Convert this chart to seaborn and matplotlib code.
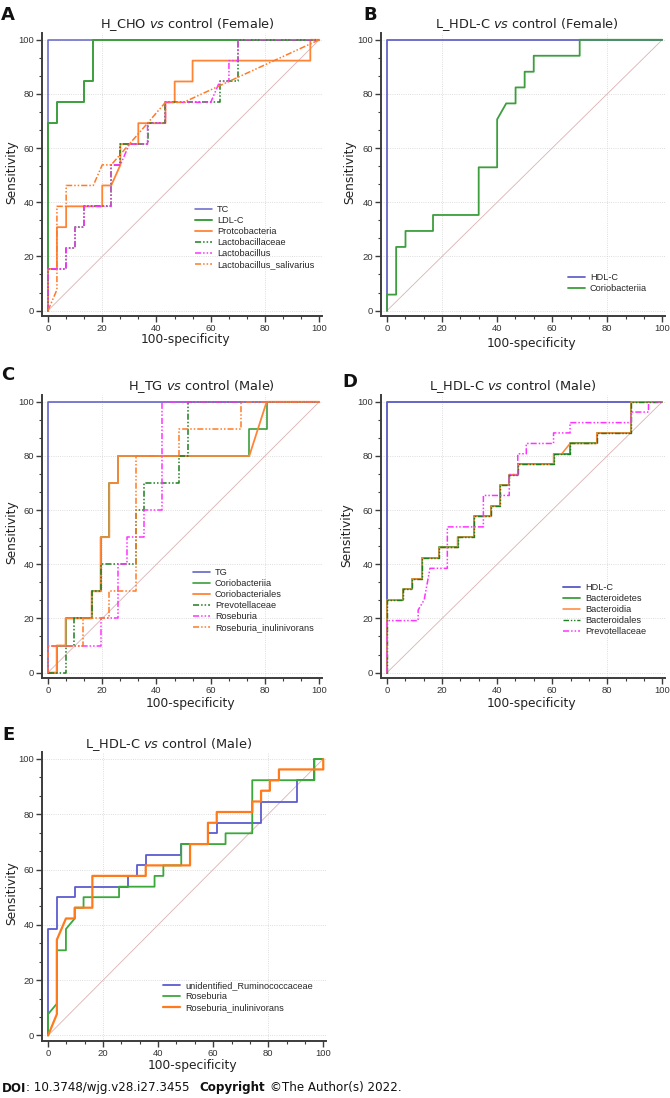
import matplotlib
matplotlib.use("Agg")
import matplotlib.pyplot as plt
import seaborn as sns
from matplotlib.ticker import MultipleLocator, AutoMinorLocator

# ---- data (x = 100-specificity, y = sensitivity) ----
# A: H_CHO vs control (Female)
a_tc_x = [0, 0, 100]
a_tc_y = [0, 100, 100]
a_ldl_x = [0, 0, 3.3, 3.3, 13.3, 13.3, 16.7, 16.7, 100]
a_ldl_y = [0, 69.2, 69.2, 76.9, 76.9, 84.6, 84.6, 100, 100]
a_proteo_x = [0, 0, 3.3, 3.3, 6.7, 6.7, 20, 20, 23.3, 26.7, 26.7, 33.3, 33.3, 43.3, 43.3,
              46.7, 46.7, 53.3, 53.3, 96.7, 96.7, 100]
a_proteo_y = [0, 15.4, 15.4, 30.8, 30.8, 38.5, 38.5, 46.2, 46.2, 53.8, 61.5, 61.5, 69.2, 69.2,
              76.9, 76.9, 84.6, 84.6, 92.3, 92.3, 100, 100]
a_lbceae_x = [0, 0, 6.7, 6.7, 10, 10, 13.3, 13.3, 23.3, 23.3, 26.7, 26.7, 36.7, 36.7, 43.3,
              43.3, 63.3, 63.3, 70, 70, 100]
a_lbceae_y = [0, 15.4, 15.4, 23.1, 23.1, 30.8, 30.8, 38.5, 38.5, 53.8, 53.8, 61.5, 61.5, 69.2,
              69.2, 76.9, 76.9, 84.6, 84.6, 100, 100]
a_lb_x = [0, 0, 6.7, 6.7, 10, 10, 13.3, 13.3, 23.3, 23.3, 26.7, 30, 36.7, 36.7, 43.3, 43.3,
          60, 63.3, 66.7, 66.7, 70, 70, 100]
a_lb_y = [0, 15.4, 15.4, 23.1, 23.1, 30.8, 30.8, 38.5, 38.5, 53.8, 53.8, 61.5, 61.5, 69.2,
          69.2, 76.9, 76.9, 84.6, 84.6, 92.3, 92.3, 100, 100]
a_saliv_x = [0, 3.3, 3.3, 6.7, 6.7, 16.7, 20, 23.3, 36.7, 43.3, 50, 100]
a_saliv_y = [0, 7.7, 38.5, 38.5, 46.2, 46.2, 53.8, 53.8, 69.2, 76.9, 76.9, 100]

# B: L_HDL-C vs control (Female)
b_hdl_x = [0, 0, 100]
b_hdl_y = [0, 100, 100]
b_corio_x = [0, 0, 3.3, 3.3, 6.7, 6.7, 16.7, 16.7, 33.3, 33.3, 40, 40, 43.3, 46.7, 46.7, 50,
             50, 53.3, 53.3, 70, 70, 100]
b_corio_y = [0, 5.9, 5.9, 23.5, 23.5, 29.4, 29.4, 35.3, 35.3, 52.9, 52.9, 70.6, 76.5, 76.5,
             82.4, 82.4, 88.2, 88.2, 94.1, 94.1, 100, 100]

# C: H_TG vs control (Male)
c_tg_x = [0, 0, 100]
c_tg_y = [0, 100, 100]
c_coriia_x = [0, 3.2, 3.2, 6.5, 6.5, 16.1, 16.1, 19.4, 19.4, 22.6, 22.6, 25.8, 25.8, 74.2,
              74.2, 80.6, 80.6, 100]
c_coriia_y = [0, 0, 10, 10, 20, 20, 30, 30, 50, 50, 70, 70, 80, 80, 90, 90, 100, 100]
c_coriales_x = [0, 3.2, 3.2, 6.5, 6.5, 16.1, 16.1, 19.4, 19.4, 22.6, 22.6, 25.8, 25.8, 74.2,
                80.6, 100]
c_coriales_y = [0, 0, 10, 10, 20, 20, 30, 30, 50, 50, 70, 70, 80, 80, 100, 100]
c_prevo_x = [0, 6.5, 6.5, 9.7, 9.7, 16.1, 16.1, 19.4, 19.4, 32.3, 32.3, 35.5, 35.5, 48.4,
             48.4, 51.6, 51.6, 100]
c_prevo_y = [0, 0, 10, 10, 20, 20, 30, 30, 40, 40, 60, 60, 70, 70, 80, 80, 100, 100]
c_rose_x = [0, 0, 19.4, 19.4, 25.8, 25.8, 29, 29, 35.5, 35.5, 41.9, 41.9, 100]
c_rose_y = [0, 10, 10, 20, 20, 40, 40, 50, 50, 60, 60, 100, 100]
c_inul_x = [0, 0, 12.9, 12.9, 22.6, 22.6, 32.3, 32.3, 48.4, 48.4, 71, 71, 100]
c_inul_y = [0, 10, 10, 20, 20, 30, 30, 80, 80, 90, 90, 100, 100]

# D: L_HDL-C vs control (Male)
d_hdl_x = [0, 0, 100]
d_hdl_y = [0, 100, 100]
d_bact_x = [0, 0, 5.9, 5.9, 9.0, 9.0, 12.6, 12.6, 18.9, 18.9, 25.6, 25.6, 31.6, 31.6, 37.8,
            37.8, 41.1, 41.1, 44.4, 44.4, 47.5, 47.5, 60.5, 60.5, 66.5, 66.5, 76.2, 76.2,
            88.7, 88.7, 100]
d_bact_y = [0, 26.9, 26.9, 30.8, 30.8, 34.6, 34.6, 42.3, 42.3, 46.2, 46.2, 50, 50, 57.7,
            57.7, 61.5, 61.5, 69.2, 69.2, 73.1, 73.1, 76.9, 76.9, 80.8, 80.8, 84.6, 84.6,
            88.5, 88.5, 100, 100]
d_bacia_x = [0, 0, 5.9, 5.9, 9.0, 9.0, 12.6, 12.6, 18.9, 18.9, 25.6, 25.6, 31.6, 31.6, 37.8,
             37.8, 41.1, 41.1, 44.4, 44.4, 47.5, 47.5, 60.5, 60.5, 63.5, 66.5, 76.2, 76.2,
             88.7, 88.7, 100]
d_bacia_y = [0, 26.9, 26.9, 30.8, 30.8, 34.6, 34.6, 42.3, 42.3, 46.2, 46.2, 50, 50, 57.7,
             57.7, 61.5, 61.5, 69.2, 69.2, 73.1, 73.1, 76.9, 76.9, 80.8, 80.8, 84.6, 84.6,
             88.5, 88.5, 100, 100]
d_prevo_x = [0, 0, 11.3, 11.3, 13.5, 15.6, 21.9, 21.9, 35, 35, 44.4, 44.4, 47.5, 47.5, 50.6,
             50.6, 60.5, 60.5, 66.5, 66.5, 88.7, 88.7, 95, 95, 100]
d_prevo_y = [0, 19.2, 19.2, 23.1, 26.9, 38.5, 38.5, 53.8, 53.8, 65.4, 65.4, 73.1, 73.1, 80.8,
             80.8, 84.6, 84.6, 88.5, 88.5, 92.3, 92.3, 96.2, 96.2, 100, 100]

# E: L_HDL-C vs control (Male)
e_rum_x = [0, 0, 3.2, 3.2, 9.7, 9.7, 29, 29, 32.3, 32.3, 35.5, 35.5, 48.4, 48.4, 58.1, 58.1,
           61.3, 61.3, 77.4, 77.4, 90.3, 90.3, 96.8, 96.8, 100]
e_rum_y = [0, 38.5, 38.5, 50, 50, 53.8, 53.8, 57.7, 57.7, 61.5, 61.5, 65.4, 65.4, 69.2, 69.2,
           73.1, 73.1, 76.9, 76.9, 84.6, 84.6, 92.3, 92.3, 100, 100]
e_rose_x = [0, 0, 3.2, 3.2, 6.5, 6.5, 9.7, 9.7, 12.9, 12.9, 25.8, 25.8, 38.7, 38.7, 41.9,
            41.9, 48.4, 48.4, 64.5, 64.5, 74.2, 74.2, 96.8, 96.8, 100]
e_rose_y = [0, 7.7, 11.5, 30.8, 30.8, 38.5, 42.3, 46.2, 46.2, 50, 50, 53.8, 53.8, 57.7, 57.7,
            61.5, 61.5, 69.2, 69.2, 73.1, 73.1, 92.3, 92.3, 100, 100]
e_inul_x = [0, 3.2, 3.2, 6.5, 9.7, 9.7, 16.1, 16.1, 35.5, 35.5, 51.6, 51.6, 58.1, 58.1, 61.3,
            61.3, 74.2, 74.2, 77.4, 77.4, 80.6, 80.6, 83.9, 83.9, 100, 100]
e_inul_y = [0, 7.7, 34.6, 42.3, 42.3, 46.2, 46.2, 57.7, 57.7, 61.5, 61.5, 69.2, 69.2, 76.9,
            76.9, 80.8, 80.8, 84.6, 84.6, 88.5, 88.5, 92.3, 92.3, 96.2, 96.2, 100]

# ---- styles ----
BLUE = "#6464c8"
GREEN = "#3c9e3c"
ORANGE = "#ff8436"
DKGREEN = "#1e7d1e"
MAGENTA = "#ff33ff"
ORANGE2 = "#ff7a26"
DASHDOT = (0, (4, 1.3, 1, 1.3, 1, 1.3))

sns.set_theme(style="white")
plt.rcParams['font.family'] = ['Liberation Sans', 'DejaVu Sans']

W, H = 670, 1098
fig = plt.figure(figsize=(W / 100, H / 100), dpi=100)


def add_axes(l, t, r, b):
    return fig.add_axes([l / W, 1 - b / H, (r - l) / W, (b - t) / H])


def px(x, y):
    return x / W, 1 - y / H


def setup(ax):
    ax.set_xlim(-2.2, 101)
    ax.set_ylim(-2, 102.5)
    for s in ['top', 'right']:
        ax.spines[s].set_visible(False)
    for s in ['left', 'bottom']:
        ax.spines[s].set_color('#3c3c3c')
        ax.spines[s].set_linewidth(1.4)
    for axis in (ax.xaxis, ax.yaxis):
        axis.set_major_locator(MultipleLocator(20))
        axis.set_minor_locator(AutoMinorLocator(3))
    ax.tick_params(which='major', direction='out', length=4, width=1, color='#3c3c3c',
                   labelsize=6.8, labelcolor='#333333', pad=1.5, left=True, bottom=True)
    ax.tick_params(which='minor', direction='out', length=2.5, width=0.8, color='#3c3c3c',
                   left=True, bottom=True)
    for v in [0, 20, 40, 60, 80, 100]:
        ax.axhline(v, color='#d2d2d2', lw=0.6, ls=':', zorder=0)
    for v in [20, 80]:
        ax.axvline(v, color='#d2d2d2', lw=0.6, ls=':', zorder=0)
    ax.plot([0, 100], [0, 100], color='#dcb2b2', lw=0.6, zorder=1)


def curve(ax, xs, ys, label, color, ls='-', lw=1.3):
    sns.lineplot(x=xs, y=ys, ax=ax, color=color, linestyle=ls, lw=lw, label=label,
                 sort=False, estimator=None)


def finish(ax, anchor):
    ax.set_xlabel('')
    ax.set_ylabel('')
    ax.legend(loc='upper left', bbox_to_anchor=anchor, frameon=False, fontsize=6.6,
              handlelength=1.85, handletextpad=0.55, labelspacing=0.22,
              borderpad=0, borderaxespad=0)


axA = add_axes(42, 33, 322, 316)
axB = add_axes(381, 33, 665, 316)
axC = add_axes(42, 395, 322, 678)
axD = add_axes(381, 395, 665, 678)
axE = add_axes(42, 752, 326, 1041)
for ax in (axA, axB, axC, axD, axE):
    setup(ax)

curve(axA, a_tc_x, a_tc_y, 'TC', BLUE, lw=1.1)
curve(axA, a_ldl_x, a_ldl_y, 'LDL-C', GREEN, lw=1.4)
curve(axA, a_proteo_x, a_proteo_y, 'Protcobacteria', ORANGE, lw=1.3)
curve(axA, a_lbceae_x, a_lbceae_y, 'Lactobacillaceae', DKGREEN, DASHDOT, 1.1)
curve(axA, a_lb_x, a_lb_y, 'Lactobacillus', MAGENTA, DASHDOT, 1.1)
curve(axA, a_saliv_x, a_saliv_y, 'Lactobacillus_salivarius', ORANGE2, DASHDOT, 1.1)
finish(axA, (0.546, 0.392))

curve(axB, b_hdl_x, b_hdl_y, 'HDL-C', BLUE, lw=1.3)
curve(axB, b_corio_x, b_corio_y, 'Coriobacteriia', GREEN, lw=1.3)
finish(axB, (0.658, 0.152))

curve(axC, c_tg_x, c_tg_y, 'TG', BLUE, lw=1.2)
curve(axC, c_coriia_x, c_coriia_y, 'Coriobacteriia', GREEN, lw=1.2)
curve(axC, c_coriales_x, c_coriales_y, 'Coriobacteriales', ORANGE, lw=1.3)
curve(axC, c_prevo_x, c_prevo_y, 'Prevotellaceae', DKGREEN, DASHDOT, 1.1)
curve(axC, c_rose_x, c_rose_y, 'Roseburia', MAGENTA, DASHDOT, 1.1)
curve(axC, c_inul_x, c_inul_y, 'Roseburia_inulinivorans', ORANGE2, DASHDOT, 1.1)
finish(axC, (0.539, 0.389))

curve(axD, d_hdl_x, d_hdl_y, 'HDL-C', BLUE, lw=1.4)
curve(axD, d_bact_x, d_bact_y, 'Bacteroidetes', GREEN, lw=1.3)
curve(axD, d_bacia_x, d_bacia_y, 'Bacteroidia', ORANGE, lw=1.1)
curve(axD, d_bact_x, d_bact_y, 'Bacteroidales', DKGREEN, DASHDOT, 1.0)
curve(axD, d_prevo_x, d_prevo_y, 'Prevotellaceae', MAGENTA, DASHDOT, 1.1)
finish(axD, (0.641, 0.336))

curve(axE, e_rum_x, e_rum_y, 'unidentified_Ruminococcaceae', "#5c5cd0", lw=1.3)
curve(axE, e_rose_x, e_rose_y, 'Roseburia', "#3aa83a", lw=1.3)
curve(axE, e_inul_x, e_inul_y, 'Roseburia_inulinivorans', "#ff7a1a", lw=1.6)
finish(axE, (0.426, 0.208))

# titles, panel letters and axis labels
titles = [(187, 25, 'H_CHO $\\it{vs}$ control (Female)'),
          (527, 25, 'L_HDL-C $\\it{vs}$ control (Female)'),
          (201, 387, 'H_TG $\\it{vs}$ control (Male)'),
          (513, 387, 'L_HDL-C $\\it{vs}$ control (Male)'),
          (169, 745, 'L_HDL-C $\\it{vs}$ control (Male)')]
for x, y, t in titles:
    fig.text(*px(x, y), t, ha='center', va='center', fontsize=9.3,
             family='DejaVu Sans', color='#222222')

for x, y, t in [(8, 15, 'A'), (370, 15, 'B'), (8, 375, 'C'), (350, 382, 'D'), (8, 735, 'E')]:
    fig.text(*px(x, y), t, ha='center', va='center', fontsize=13, fontweight='bold',
             family='DejaVu Sans', color='#111111')

for x, y in [(12, 172), (350, 172), (12, 532), (347, 535), (12, 893)]:
    fig.text(*px(x, y), 'Sensitivity', rotation=90, ha='center', va='center',
             fontsize=8.8, family='DejaVu Sans', color='#222222')
for x, y in [(185, 340), (531, 343), (190, 703), (531, 703), (192, 1065)]:
    fig.text(*px(x, y), '100-specificity', ha='center', va='center',
             fontsize=8.8, family='DejaVu Sans', color='#222222')

# footer
renderer = fig.canvas.get_renderer()
pieces = [('DOI', 'bold', 0), (': 10.3748/wjg.v28.i27.3455', 'normal', 10),
          ('Copyright', 'bold', 5), ('\u00a9The Author(s) 2022.', 'normal', 0)]
xpos = 2
for text, weight, gap in pieces:
    t = fig.text(*px(xpos, 1088), text, ha='left', va='center', fontsize=8.6,
                 fontweight=weight, family='DejaVu Sans', color='#111111')
    xpos += t.get_window_extent(renderer).width + gap

fig.savefig('out.png', dpi=100)
